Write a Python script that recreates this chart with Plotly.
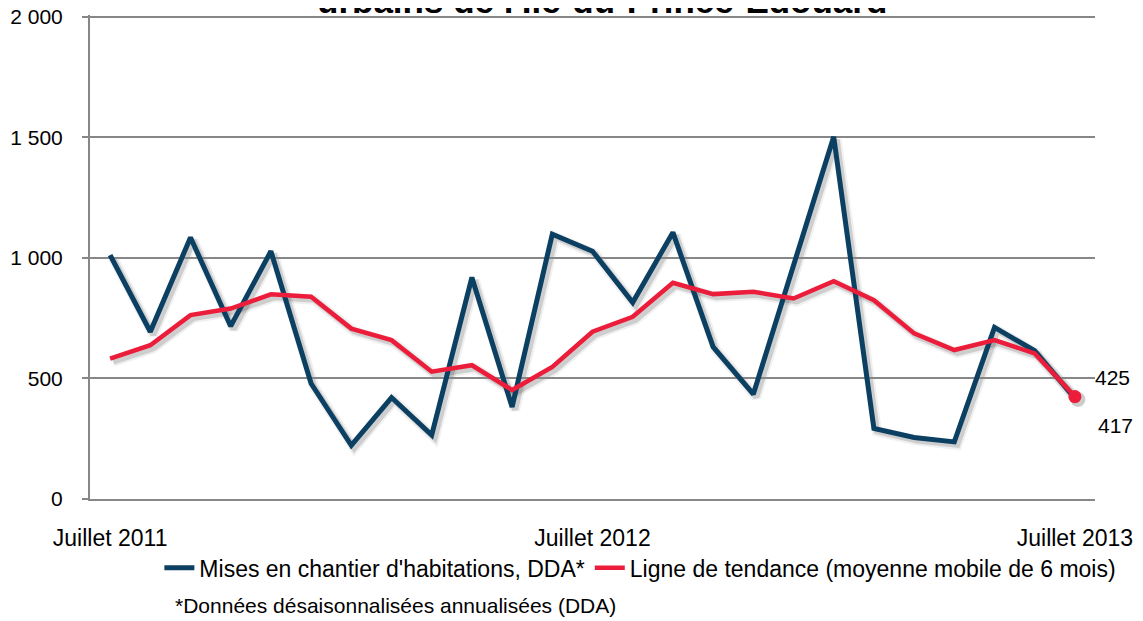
import plotly.graph_objects as go

# ---- data ----
months = ["2011-07", "2011-08", "2011-09", "2011-10", "2011-11", "2011-12",
          "2012-01", "2012-02", "2012-03", "2012-04", "2012-05", "2012-06",
          "2012-07", "2012-08", "2012-09", "2012-10", "2012-11", "2012-12",
          "2013-01", "2013-02", "2013-03", "2013-04", "2013-05", "2013-06",
          "2013-07"]
starts_saar = [1012, 694, 1085, 717, 1028, 479, 223, 421, 265, 919, 382, 1099,
               1028, 815, 1106, 631, 435, 966, 1503, 293, 255, 237, 712, 615, 417]
trend_6m = [582, 638, 763, 790, 849, 839, 707, 659, 528, 555, 452, 548,
            694, 756, 897, 850, 860, 832, 904, 825, 687, 618, 659, 604, 425]

x_tick_vals = ["2011-07", "2012-07", "2013-07"]
x_tick_text = ["Juillet 2011", "Juillet 2012", "Juillet 2013"]
y_tick_vals = [0, 500, 1000, 1500, 2000]
y_tick_text = ["0", "500", "1 000", "1 500", "2 000"]

name_starts = "Mises en chantier d'habitations, DDA*"
name_trend = "Ligne de tendance (moyenne mobile de 6 mois)"
title_text = "urbains de l'Île-du-Prince-Édouard"
footnote = "*Données désaisonnalisées annualisées (DDA)"

DARK = "#0c4063"
RED = "#ec1c3b"
GRID = "#878787"
FONT = "Liberation Sans, Arial, sans-serif"

W, H = 1143, 621
Y_MAX = 2008  # a hair above 2000 so the top gridline is drawn
ML, MR, MT, MB = 82, 53, 7.1, 127
PW = W - ML - MR
PH = H - MT - MB
SH = 3  # shadow offset px

fig = go.Figure()

# shadow traces (hidden axes x/y shifted right & down)
for w, a in [(10, 0.06), (6, 0.14)]:
    fig.add_trace(go.Scatter(x=months, y=starts_saar, mode="lines",
                             line=dict(color=f"rgba(0,0,0,{a})", width=w),
                             showlegend=False, hoverinfo="skip",
                             xaxis="x", yaxis="y"))
    fig.add_trace(go.Scatter(x=months, y=trend_6m, mode="lines",
                             line=dict(color=f"rgba(0,0,0,{a})", width=w),
                             showlegend=False, hoverinfo="skip",
                             xaxis="x", yaxis="y"))
fig.add_trace(go.Scatter(x=months[-1:], y=trend_6m[-1:], mode="markers",
                         marker=dict(color="rgba(0,0,0,0.2)", size=15),
                         showlegend=False, hoverinfo="skip",
                         xaxis="x", yaxis="y"))

# real traces
fig.add_trace(go.Scatter(x=months, y=starts_saar, mode="lines", name=name_starts,
                         line=dict(color=DARK, width=5),
                         xaxis="x2", yaxis="y2"))
fig.add_trace(go.Scatter(x=months, y=trend_6m, mode="lines", name=name_trend,
                         line=dict(color=RED, width=4.5),
                         xaxis="x2", yaxis="y2"))
fig.add_trace(go.Scatter(x=months[-1:], y=trend_6m[-1:], mode="markers",
                         marker=dict(color=RED, size=13), showlegend=False,
                         xaxis="x2", yaxis="y2"))

xrange = [-0.5, len(months) - 0.5]
yrange = [0, Y_MAX]

fig.update_layout(
    width=W, height=H,
    margin=dict(l=ML, r=MR, t=MT, b=MB, autoexpand=False),
    paper_bgcolor="white", plot_bgcolor="rgba(0,0,0,0)",
    font=dict(family=FONT, size=21, color="black"),
    xaxis=dict(type="category", range=xrange, visible=False, automargin=False,
               domain=[SH / PW, 1], anchor="y", categoryarray=months),
    yaxis=dict(range=yrange, visible=False, automargin=False,
               domain=[0, 1 - SH / PH], anchor="x"),
    xaxis2=dict(type="category", range=xrange, domain=[0, 1 - SH / PW],
                anchor="y2", categoryarray=months, automargin=False,
                tickmode="array", tickvals=x_tick_vals, ticktext=x_tick_text,
                showgrid=False, showline=True, linecolor=GRID, linewidth=2,
                ticks="", ticklabelstandoff=17, ticklabeloverflow="allow",
                tickfont=dict(size=23)),
    yaxis2=dict(range=yrange, domain=[SH / PH, 1], anchor="x2", automargin=False,
                tickmode="array", tickvals=y_tick_vals, ticktext=y_tick_text,
                showgrid=True, gridcolor=GRID, gridwidth=1.6,
                showline=True, linecolor=GRID, linewidth=2,
                ticks="outside", ticklen=6, tickcolor=GRID, tickwidth=2,
                ticklabelstandoff=15, ticklabeloverflow="allow", zeroline=False,
                tickfont=dict(size=21)),
    legend=dict(orientation="h", x=0.546, xanchor="center", y=-0.135,
                yanchor="middle", font=dict(size=23), itemwidth=30,
                bgcolor="rgba(0,0,0,0)"),
    showlegend=True,
)

fig.add_annotation(text="<b>" + title_text + "</b>", xref="paper", yref="paper",
                   x=0.508, y=1, xanchor="center", yanchor="bottom", yshift=-7,
                   showarrow=False, font=dict(size=35, family=FONT, color="black"))

fig.add_annotation(text=footnote, xref="paper", yref="paper", x=0.082, y=-0.212,
                   xanchor="left", yanchor="middle", showarrow=False,
                   font=dict(size=21))

fig.add_annotation(text=str(trend_6m[-1]), xref="x2", yref="y2",
                   x=months[-1], y=trend_6m[-1], xanchor="left", yanchor="middle",
                   xshift=18, yshift=19, showarrow=False, font=dict(size=21))
fig.add_annotation(text=str(starts_saar[-1]), xref="x2", yref="y2",
                   x=months[-1], y=starts_saar[-1], xanchor="left", yanchor="middle",
                   xshift=21, yshift=-27, showarrow=False, font=dict(size=21))

fig.write_html("out.html")
